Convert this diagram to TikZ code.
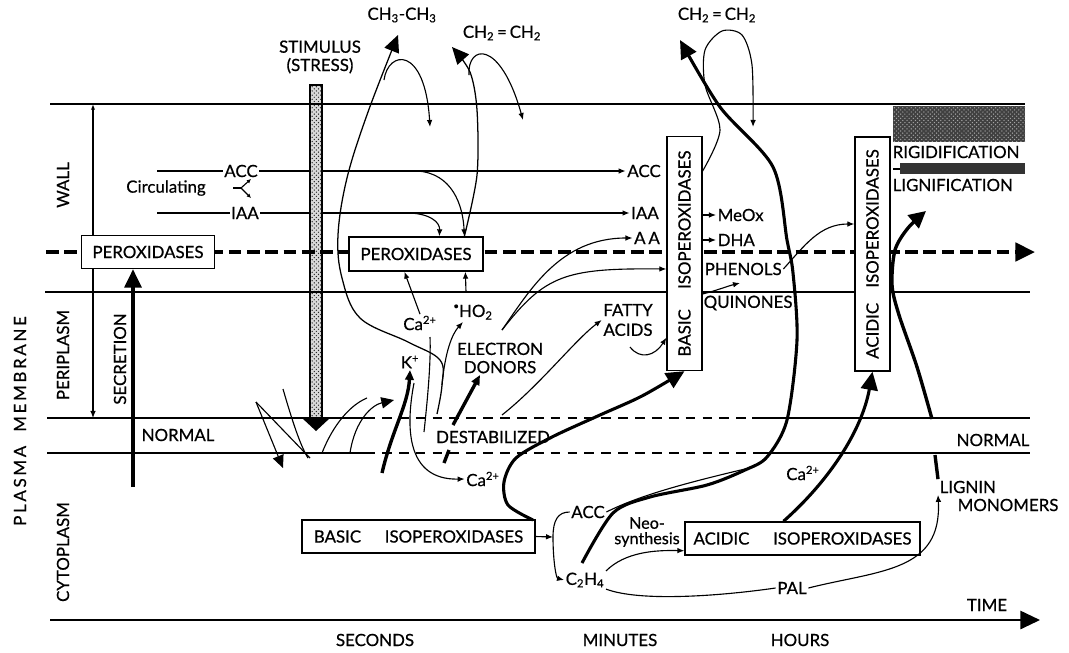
\documentclass[tikz,border=0pt]{standalone}
\usepackage{fontspec}
\setmainfont{Lato}[FakeBold=0.6]
\usetikzlibrary{arrows.meta, positioning, patterns, backgrounds, calc}

\begin{document}
\begin{tikzpicture}[x=0.025cm, y=-0.025cm, >={Latex[length=5pt,width=4pt]},
    every node/.style={font=\fontsize{12}{13}\selectfont, inner sep=1pt},
    boxlabel/.style={draw, fill=white, line width=0.9pt, inner sep=3pt, minimum height=0.83cm},
    vboxlabel/.style={draw, fill=white, line width=0.9pt, rotate=90, inner sep=3pt, minimum height=0.875cm, minimum width=5.85cm},
    sidelabel/.style={rotate=90},
    link/.style={line width=0.8pt},
    layer/.style={line width=1pt},
    emit/.style={line width=0.9pt, -{Triangle[length=12pt,width=11pt]}},
    flow/.style={line width=2.2pt, -{Triangle[length=13pt,width=12pt]}},
    push/.style={line width=2.4pt, -{Triangle[length=7pt,width=6pt]}}]

    \useasboundingbox (0,0) rectangle (1069,652);

    % compartments
    \node [sidelabel] (wall) at (63,185) {WALL};
    \node [sidelabel] (peri) at (63,355) {PERIPLASM};
    \node [sidelabel] (cyto) at (63,552) {CYTOPLASM};
    \node [sidelabel, font={\fontsize{12}{13}\selectfont\addfontfeature{LetterSpace=16}}] (plasma) at (20,421) {PLASMA\ \ MEMBRANE};
    \node [sidelabel] (secr) at (120,359) {SECRETION};
    \node [anchor=west] (normL) at (140,435) {NORMAL};
    \node (normR) at (993,440) {NORMAL};
    \node (destab) at (493,437) {DESTABILIZED};
    \node [align=center] (stim) at (320,57) {STIMULUS\\(STRESS)};

    % boxes
    \node [boxlabel, minimum width=3.325cm] (peroxA) at (148,252) {PEROXIDASES};
    \node [boxlabel, minimum width=3.35cm, minimum height=0.85cm] (peroxB) at (416,254) {PEROXIDASES};
    \node [vboxlabel] (basicV) at (684.5,253.5) {BASIC\hspace{1.2em}ISOPEROXIDASES};
    \node [vboxlabel] (acidV) at (872.5,254) {ACIDIC\hspace{0.9em}ISOPEROXIDASES};
    \node [boxlabel, minimum width=5.825cm] (basicH) at (418.5,536.5) {BASIC\hspace{1.4em}ISOPEROXIDASES};
    \node [boxlabel, minimum width=5.875cm] (acidH) at (802.5,538.5) {ACIDIC\hspace{1.4em}ISOPEROXIDASES};

    % substances
    \node (circ) at (166,188) {Circulating};
    \node (accL) at (241,171) {ACC};
    \node (iaaL) at (245,213) {IAA};
    \node (accR) at (644,171) {ACC};
    \node (iaaR) at (645,213) {IAA};
    \node (aaR) at (647,238) {A\,A};
    \node [anchor=west] (meox) at (716,215) {MeOx};
    \node [anchor=west] (dha) at (716,240) {DHA};
    \node [anchor=west] (phenols) at (703,269) {PHENOLS};
    \node [anchor=west] (quinones) at (702,303) {QUINONES};
    \node [align=center] (fatty) at (628,320) {FATTY\\[1pt]ACIDS};
    \node [align=center] (edon) at (500,358) {ELECTRON\\DONORS};
    \node (caU) at (420,323) {Ca\textsuperscript{2+}};
    \node (ho2) at (473,312) {\raisebox{0.9ex}{\scriptsize\textbullet}HO\textsubscript{2}};
    \node (kplus) at (410,362) {K\textsuperscript{+}};
    \node (caL) at (483,479) {Ca\textsuperscript{2+}};
    \node (caR) at (803,473) {Ca\textsuperscript{2+}};
    \node (ch3) at (402,15) {CH\textsubscript{3}-CH\textsubscript{3}};
    \node (ch2a) at (502,33) {CH\textsubscript{2}\,=\,CH\textsubscript{2}};
    \node (ch2b) at (717,15) {CH\textsubscript{2}\,=\,CH\textsubscript{2}};
    \node (accB) at (588,512) {ACC};
    \node (c2h4) at (585,580) {C\textsubscript{2}H\textsubscript{4}};
    \node [font=\fontsize{11.5}{12}\selectfont, inner sep=0pt] (neo1) at (647,523) {Neo-};
    \node [font=\fontsize{11.5}{12}\selectfont, inner sep=0pt, below=2pt of neo1] (neo2) {synthesis};
    \node (pal) at (792,588) {PAL};
    \node [anchor=west] (lig1) at (938,487) {LIGNIN};
    \node [anchor=west] (lig2) at (956,505) {MONOMERS};
    \node [anchor=west] (rigid) at (891,152) {RIGIDIFICATION};
    \node [anchor=west] (lignif) at (891,185) {LIGNIFICATION};
    \node (time) at (987,605) {TIME};
    \node (seconds) at (375,640) {SECONDS};
    \node (minutes) at (620,640) {MINUTES};
    \node (hours) at (800,640) {HOURS};

    % free ends
    \coordinate (accStart) at (157,171);
    \coordinate (iaaStart) at (157,213);
    \coordinate (fork0) at (233,188);
    \coordinate (forkC) at (241,188);
    \coordinate (accBranch) at (417,171);
    \coordinate (iaaBranch) at (410,213);
    \coordinate (pB1) at ($(peroxB.north west)+(91,0)$);
    \coordinate (pB2) at ($(peroxB.north west)+(116,0)$);
    \coordinate (pB3) at ($(peroxB.south west)+(56,0)$);
    \coordinate (pB4) at ($(peroxB.south west)+(117,0)$);
    \coordinate (secBase) at (133,487);
    \coordinate (lipid) at (442,385);
    \coordinate (ch3tip) at (398,35);
    \coordinate (ch2tipA) at (452,47);
    \coordinate (ch2tipB) at (680,40);
    \coordinate (ho2tip) at (463,322);
    \coordinate (caLine) at (430,337);
    \coordinate (donor) at (502,330);
    \coordinate (basicUp) at (533,520);
    \coordinate (fork) at (553,537);
    \coordinate (ethA) at (582,563);
    \coordinate (loopB) at (basicV.south |- accR);
    \coordinate (quinTip) at (740,283);
    \coordinate (acidIn) at ($(acidV.north)+(0,-30)$);
    \coordinate (ligUp) at (932,419);
    \coordinate (ligTip) at (926,211);

    \begin{scope}[on background layer]
        \draw [link] (accStart) -- (accL.west);
        \draw [link] (iaaStart) -- (iaaL.west);
        \draw [link, ->] (accL.east) -- (accR.west);
        \draw [link, ->] (iaaL.east) -- (iaaR.west);
        % stimulus
        \draw [fill=gray!30, line width=0.8pt] (310,85) rectangle (322,418);
        \fill [pattern=crosshatch dots, pattern color=black!85] (310,85) rectangle (322,418);
        \fill (302,418) -- (330,418) -- (316,431) -- cycle;
        % layers
        \draw [layer] (50,104) -- (1025,104);
        \draw [line width=2.8pt, dash pattern=on 9pt off 4pt, -{Triangle[length=14pt,width=13pt]}] (46,252) -- (1035,252);
        \draw [layer] (45,292) -- (1030,292);
        \draw [layer] (47,418) -- (365,418);
        \draw [layer, dash pattern=on 7pt off 5pt] (365,418) -- (752,418);
        \draw [layer] (752,418) -- (1030,418);
        \draw [layer] (47,453) -- (365,453);
        \draw [layer, dash pattern=on 7pt off 5pt] (365,453) -- (763,453);
        \draw [layer] (763,453) -- (1030,453);
        \draw [link, {Latex[length=4pt,width=3pt]}-{Latex[length=5pt,width=4pt]}] (93,104) -- (93,418);
        \draw [line width=1.5pt, -{Triangle[length=14pt,width=13pt]}] (50,620) -- (1040,620);
        % wall textures
        \fill [black!75] (893,106) rectangle (1025,142);
        \fill [pattern=crosshatch dots, pattern color=gray!70] (893,106) rectangle (1025,142);
        \fill [black!80] (900,163) rectangle (1025,174);
        \draw [link] (893,169) -- (900,169);
    \end{scope}

    % circulating hormones
    \draw [link] (fork0) -- (forkC);
    \draw [link, -{Latex[length=3pt,width=3pt]}] (forkC) -- (251,179);
    \draw [link, -{Latex[length=3pt,width=3pt]}] (forkC) -- (251,198);
    \draw [link, ->] (accBranch) .. controls (452,173) and (463,205) .. (pB2);
    \draw [link, ->] (iaaBranch) .. controls (430,214) and (440,222) .. (pB1);

    % secretion
    \draw [flow] (secBase) -- (peroxA.south -| secBase);

    % membrane disturbance
    \draw [link] (256,402) -- (310,458);
    \draw [link, -{Triangle[length=9pt,width=8pt]}] (256,402) -- (283,468);
    \draw [link] (283,389) .. controls (292,420) and (300,445) .. (308,458);
    \draw [link] (322,453) .. controls (333,425) and (350,405) .. (367,398);
    \draw [link, -{Triangle[length=9pt,width=8pt]}] (350,453) .. controls (355,420) and (372,405) .. (394,400);
    \draw [push] (382,473) .. controls (392,430) and (408,405) .. (kplus.south);

    % lipid peroxidation
    \draw [emit] plot [smooth, tension=0.6] coordinates {(437,414) (lipid) (440,360) (408,342) (360,318) (342,278) (338,235) (347,178) (368,112) (ch3tip)};
    \draw [link, ->] (384,80) .. controls (388,50) and (425,45) .. (430,127);
    \draw [link, ->] (lipid) .. controls (445,352) and (452,334) .. (ho2tip);
    \draw [emit] plot [smooth] coordinates {(pB2) (477,175) (477,110) (470,72) (ch2tipA)};
    \draw [link, ->] (469,75) .. controls (467,45) and (500,38) .. (523,120);
    \draw [link] (424,432) .. controls (428,395) and (431,360) .. (caLine);
    \draw [link, ->] (caU.north) -- (pB3);
    \draw [link, ->] (466,292) -- (pB4);
    \draw [link, ->] (414,383) .. controls (406,425) and (405,480) .. (caL.west);

    % electron donors
    \draw [push] (453,425) -- ($(edon.south)+(-20,0)$);
    \draw [line width=2.4pt] (449,450) -- (444,463);
    \draw [link, ->] (502,415) .. controls (540,385) and (575,340) .. (fatty.west);
    \draw [link, ->] (donor) .. controls (530,290) and (560,238) .. (aaR.west);
    \draw [link, ->] (donor) .. controls (545,275) and (565,268) .. (basicV.north |- phenols);
    \draw [link, ->] (630,347) .. controls (640,360) and (655,356) .. (basicV.north |- fatty.south);

    % basic isoperoxidases
    \draw [flow] plot [smooth] coordinates {(basicUp) (508,505) (504,482) (516,458) (552,437) (600,415) (642,396) (basicV.west)};
    \draw [link, ->] (basicV.south |- meox) -- (meox.west);
    \draw [link, ->] (basicV.south |- dha) -- (dha.west);
    \draw [link, ->] (basicV.south |- quinones.north) .. controls (715,291) and (728,286) .. (quinTip);
    \draw [link, ->] (phenols.east) .. controls (805,245) and (820,224) .. (acidIn);
    \draw [link, ->] plot [smooth] coordinates {(loopB) (720,130) (705,85) (705,50) (722,31) (742,35) (752,65) (753,127)};

    % ethylene
    \draw [link, ->] (basicH.east) -- (fork);
    \draw [link] (fork) .. controls (553,520) and (558,512) .. (accB.west);
    \draw [link, ->] (fork) .. controls (553,560) and (556,578) .. (c2h4.west);
    \draw [flow] plot [smooth] coordinates {(ethA) (613,513) (650,497) (707,485) (745,470) (767,457) (787,420) (797,340) (793,273) (787,240) (773,167) (720,107) (ch2tipB)};
    \draw [link] (accB.east) .. controls (640,495) and (690,482) .. (745,469);
    \draw [link, ->] (c2h4.north east) .. controls (625,552) and (655,550) .. ($(acidH.south west)+(0,-5)$);
    \draw [link] (c2h4.south east) .. controls (640,602) and (720,596) .. (pal.west);

    % acidic isoperoxidases
    \draw [flow] ($(acidH.north)+(-19,0)$) .. controls (830,480) and (862,430) .. (acidV.west);
    \draw [link, ->] (pal.east) .. controls (880,570) and (942,572) .. (lig1.south west);
    \draw [line width=2.4pt] (935,455) -- (lig1.north west);
    \draw [line width=2.4pt, -{Triangle[length=12pt,width=12pt]}] plot [smooth] coordinates {(ligUp) (917,367) (899,315) (892,285) (895,250) (908,228) (ligTip)};
\end{tikzpicture}
\end{document}
